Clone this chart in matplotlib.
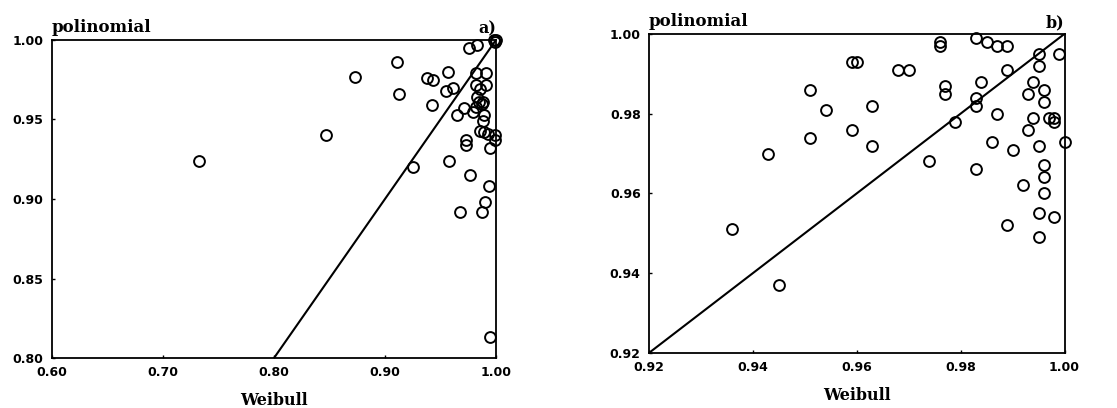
import matplotlib
matplotlib.use("Agg")
import matplotlib.pyplot as plt
import numpy as np

# panel a) - Weibull vs polinomial, wide range
weib_a = [0.732, 0.847, 0.873, 0.911, 0.913, 0.925, 0.938, 0.943, 0.942, 0.957,
          0.955, 0.961, 0.958, 0.965, 0.971, 0.968, 0.973, 0.973, 0.977, 0.976,
          0.983, 0.979, 0.982, 0.991, 0.982, 0.991, 0.986, 0.983, 0.985, 0.987,
          0.988, 0.982, 0.989, 0.988, 0.986, 0.989, 0.993, 0.999, 0.999, 0.995,
          0.994, 0.990, 0.987, 0.995, 0.998, 1.000, 0.999]
poli_a = [0.924, 0.940, 0.977, 0.986, 0.966, 0.920, 0.976, 0.975, 0.959, 0.980,
          0.968, 0.970, 0.924, 0.953, 0.957, 0.892, 0.937, 0.934, 0.915, 0.995,
          0.997, 0.955, 0.979, 0.979, 0.972, 0.972, 0.969, 0.964, 0.961, 0.960,
          0.961, 0.958, 0.953, 0.949, 0.943, 0.942, 0.941, 0.940, 0.937, 0.932,
          0.908, 0.898, 0.892, 0.813, 1.000, 1.000, 0.999]

# panel b) - zoomed range
weib_b = [0.936, 0.943, 0.945, 0.951, 0.951, 0.954, 0.959, 0.959, 0.960, 0.963,
          0.963, 0.968, 0.970, 0.974, 0.976, 0.976, 0.977, 0.977, 0.979, 0.983,
          0.983, 0.983, 0.983, 0.984, 0.985, 0.986, 0.987, 0.987, 0.989, 0.989,
          0.989, 0.990, 0.992, 0.993, 0.993, 0.994, 0.994, 0.995, 0.995, 0.995,
          0.995, 0.995, 0.996, 0.996, 0.996, 0.996, 0.996, 0.997, 0.998, 0.998,
          0.998, 0.999, 1.000]
poli_b = [0.951, 0.970, 0.937, 0.986, 0.974, 0.981, 0.976, 0.993, 0.993, 0.982,
          0.972, 0.991, 0.991, 0.968, 0.997, 0.998, 0.987, 0.985, 0.978, 0.999,
          0.984, 0.982, 0.966, 0.988, 0.998, 0.973, 0.997, 0.980, 0.997, 0.991,
          0.952, 0.971, 0.962, 0.985, 0.976, 0.988, 0.979, 0.995, 0.992, 0.972,
          0.955, 0.949, 0.986, 0.983, 0.967, 0.964, 0.960, 0.979, 0.979, 0.978,
          0.954, 0.995, 0.973]

xticks_a = [0.60, 0.70, 0.80, 0.90, 1.00]
yticks_a = [0.80, 0.85, 0.90, 0.95, 1.00]
xticks_b = [0.92, 0.94, 0.96, 0.98, 1.00]
yticks_b = [0.92, 0.94, 0.96, 0.98, 1.00]

serif = ["DejaVu Serif"]
tickfont = dict(family="DejaVu Sans", weight="bold", size=9)

fig = plt.figure(figsize=(11.17, 4.08), dpi=100, facecolor="white")
ax_a = fig.add_axes([0.0466, 0.1225, 0.3974, 0.7795])
ax_b = fig.add_axes([0.581, 0.135, 0.372, 0.782])


def style(ax, xt, yt, lo_x, lo_y, tag):
    ax.set_xlim(lo_x, 1.0)
    ax.set_ylim(lo_y, 1.0)
    ax.set_xticks(xt)
    ax.set_yticks(yt)
    ax.set_xticklabels(["%.2f" % v for v in xt], fontdict=tickfont)
    ax.set_yticklabels(["%.2f" % v for v in yt], fontdict=tickfont)
    ax.tick_params(direction="in", length=2, width=1, pad=6)
    for s in ax.spines.values():
        s.set_linewidth(1.3)
    ax.set_xlabel("Weibull", family=serif, weight="bold", fontsize=11.5, labelpad=9)
    ax.text(0.0, 1.012, "polinomial", transform=ax.transAxes, family=serif,
            weight="bold", fontsize=12, ha="left", va="bottom")
    ax.text(1.0, 1.008, tag, transform=ax.transAxes, family=serif,
            weight="bold", fontsize=11.5, ha="right", va="bottom")


# diagonal y = x
ax_a.plot([0.80, 1.00], [0.80, 1.00], color="black", lw=1.5)
ax_a.plot(weib_a, poli_a, "o", mfc="none", mec="black", ms=7.8, mew=1.4,
          clip_on=False)
style(ax_a, xticks_a, yticks_a, 0.60, 0.80, "a)")

ax_b.plot([0.92, 1.00], [0.92, 1.00], color="black", lw=1.5)
ax_b.plot(weib_b, poli_b, "o", mfc="none", mec="black", ms=7.8, mew=1.4,
          clip_on=False)
style(ax_b, xticks_b, yticks_b, 0.92, 0.92, "b)")

fig.savefig("out.png", dpi=100, facecolor="white")
